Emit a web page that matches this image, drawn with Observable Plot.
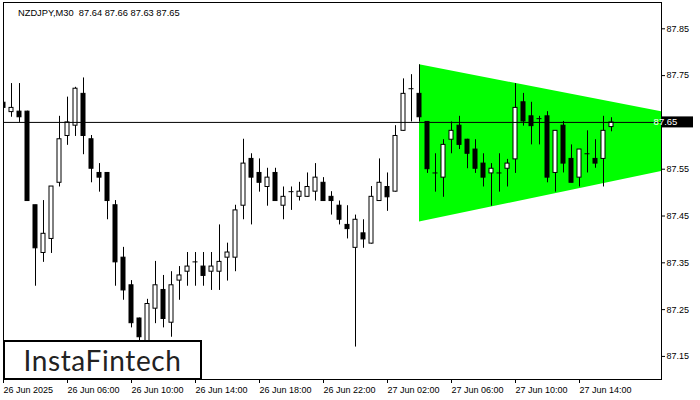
<!DOCTYPE html>
<html><head><meta charset="utf-8">
<script src="https://cdn.jsdelivr.net/npm/d3@7"></script>
<script src="https://cdn.jsdelivr.net/npm/@observablehq/plot@0.6"></script>
<style>
body{margin:0;background:#fff}
#wrap{position:relative;width:700px;height:400px;overflow:hidden;background:#fff}
#title{position:absolute;left:18px;top:8px;font-family:"Liberation Sans",sans-serif;font-size:9.3px;line-height:10px;white-space:pre;color:#000}
#logo{position:absolute;left:3px;top:340px;width:199px;height:40px;box-sizing:border-box;border:2px solid #000;background:#fff;display:flex;align-items:center;justify-content:center;font-family:Lato,sans-serif;font-size:28px;color:#222;letter-spacing:0.6px}
</style></head><body>
<div id="wrap"><div id="chart"></div><div id="title"></div><div id="logo">InstaFintech</div></div>
<script>
const symbolTitle = "NZDJPY,M30  87.64 87.66 87.63 87.65";
const open  = [87.692,87.672,87.673,87.673,87.473,87.371,87.401,87.521,87.621,87.643,87.711,87.614,87.542,87.542,87.473,87.361,87.302,87.231,87.180,87.252,87.292,87.222,87.312,87.331,87.352,87.342,87.331,87.331,87.361,87.361,87.472,87.572,87.542,87.512,87.542,87.472,87.502,87.491,87.491,87.502,87.521,87.491,87.472,87.431,87.382,87.413,87.391,87.482,87.512,87.502,87.632,87.722,87.711,87.651,87.542,87.532,87.613,87.643,87.613,87.592,87.562,87.541,87.542,87.551,87.571,87.693,87.663,87.658,87.663,87.542,87.643,87.572,87.532,87.583,87.572,87.572,87.64];
const high  = [87.711,87.733,87.733,87.674,87.473,87.483,87.513,87.663,87.704,87.725,87.745,87.622,87.562,87.543,87.483,87.383,87.312,87.232,87.272,87.353,87.323,87.331,87.342,87.372,87.372,87.372,87.372,87.431,87.392,87.473,87.614,87.583,87.572,87.552,87.552,87.512,87.512,87.522,87.542,87.562,87.532,87.502,87.482,87.472,87.452,87.442,87.513,87.572,87.542,87.643,87.743,87.752,87.773,87.652,87.583,87.613,87.651,87.663,87.614,87.613,87.583,87.562,87.583,87.571,87.733,87.712,87.693,87.663,87.673,87.632,87.652,87.602,87.592,87.632,87.613,87.663,87.66];
const low   = [87.680,87.661,87.650,87.481,87.300,87.351,87.370,87.512,87.601,87.620,87.581,87.521,87.501,87.442,87.300,87.270,87.211,87.180,87.167,87.220,87.211,87.191,87.270,87.300,87.300,87.300,87.291,87.291,87.311,87.331,87.442,87.431,87.501,87.471,87.482,87.442,87.462,87.482,87.490,87.482,87.481,87.452,87.431,87.401,87.170,87.381,87.390,87.481,87.460,87.501,87.631,87.651,87.651,87.541,87.501,87.490,87.583,87.592,87.551,87.541,87.512,87.471,87.501,87.512,87.541,87.642,87.602,87.602,87.521,87.501,87.542,87.521,87.512,87.542,87.552,87.512,87.63];
const close = [87.681,87.681,87.661,87.482,87.381,87.412,87.513,87.614,87.650,87.722,87.621,87.551,87.532,87.482,87.351,87.291,87.221,87.191,87.262,87.302,87.230,87.302,87.323,87.342,87.352,87.322,87.342,87.352,87.372,87.462,87.562,87.532,87.521,87.532,87.482,87.491,87.502,87.502,87.512,87.532,87.482,87.482,87.442,87.422,87.442,87.400,87.491,87.521,87.490,87.621,87.711,87.722,87.661,87.550,87.542,87.602,87.632,87.602,87.583,87.551,87.532,87.551,87.542,87.562,87.681,87.652,87.642,87.658,87.532,87.632,87.562,87.521,87.592,87.583,87.562,87.632,87.65];
const bidPrice = 87.65;
const yTicks = [87.15,87.25,87.35,87.45,87.55,87.65,87.75,87.85];
const xTickIdx = [0,8,16,24,32,40,48,56,64,72];
const xLabels = ["26 Jun 2025","26 Jun 06:00","26 Jun 10:00","26 Jun 14:00","26 Jun 18:00","26 Jun 22:00","27 Jun 02:00","27 Jun 06:00","27 Jun 10:00","27 Jun 14:00"];
// symmetrical triangle pattern (bar index, upper, lower)
const triX = [52, 82.25];
const triTop = [87.773, 87.673];
const triBot = [87.437, 87.545];

document.getElementById("title").textContent = symbolTitle;
const candles = open.map((o, i) => ({i, o, h: high[i], l: low[i], c: close[i]}));
const tri = triX.map((x, k) => ({x, top: triTop[k], bot: triBot[k]}));
const labelTicks = yTicks.filter(t => Math.abs(t - bidPrice) > 1e-9);

const chart = Plot.plot({
  width: 700, height: 400,
  marginLeft: 3, marginRight: 39, marginTop: 2, marginBottom: 21,
  style: {fontFamily: "Liberation Sans, sans-serif", fontSize: "9px", color: "#000", background: "#fff"},
  x: {type: "linear", domain: [0, 82.25], axis: null},
  y: {domain: [87.1007, 87.9062], axis: null},
  marks: [
    Plot.areaY(tri, {x: "x", y1: "bot", y2: "top", fill: "#00ff00", clip: true}),
    Plot.ruleX(candles, {x: "i", y1: "l", y2: "h", stroke: "#000", clip: true}),
    Plot.rect(candles.filter(d => d.o !== d.c), {
      x1: d => d.i - 0.25, x2: d => d.i + 0.25, y1: "o", y2: "c",
      fill: d => d.c > d.o ? "#fff" : "#000", stroke: "#000", clip: true
    }),
    Plot.ruleY(candles.filter(d => d.o === d.c), {y: "o", x1: d => d.i - 0.3125, x2: d => d.i + 0.3125, stroke: "#000", clip: true}),
    Plot.ruleY([bidPrice], {stroke: "#000"}),
    Plot.frame({stroke: "#000"}),
    Plot.axisY({anchor: "right", ticks: labelTicks, tickFormat: d => d.toFixed(2), tickSize: 3, tickPadding: 2}),
    Plot.axisX({anchor: "bottom", ticks: xTickIdx, tickFormat: d => xLabels[xTickIdx.indexOf(d)], textAnchor: "start", tickSize: 4, tickPadding: 3})
  ]
});
document.getElementById("chart").appendChild(chart);

const yb = chart.scale("y").apply(bidPrice);
const g = d3.select(chart).append("g");
g.append("rect").attr("x", 662).attr("y", yb - 5.5).attr("width", 31).attr("height", 11).attr("fill", "#000");
g.append("text").attr("x", 665.5).attr("y", yb).attr("dy", "0.34em").attr("fill", "#fff").attr("font-size", 9.5).text(bidPrice.toFixed(2));
</script>
</body></html>
